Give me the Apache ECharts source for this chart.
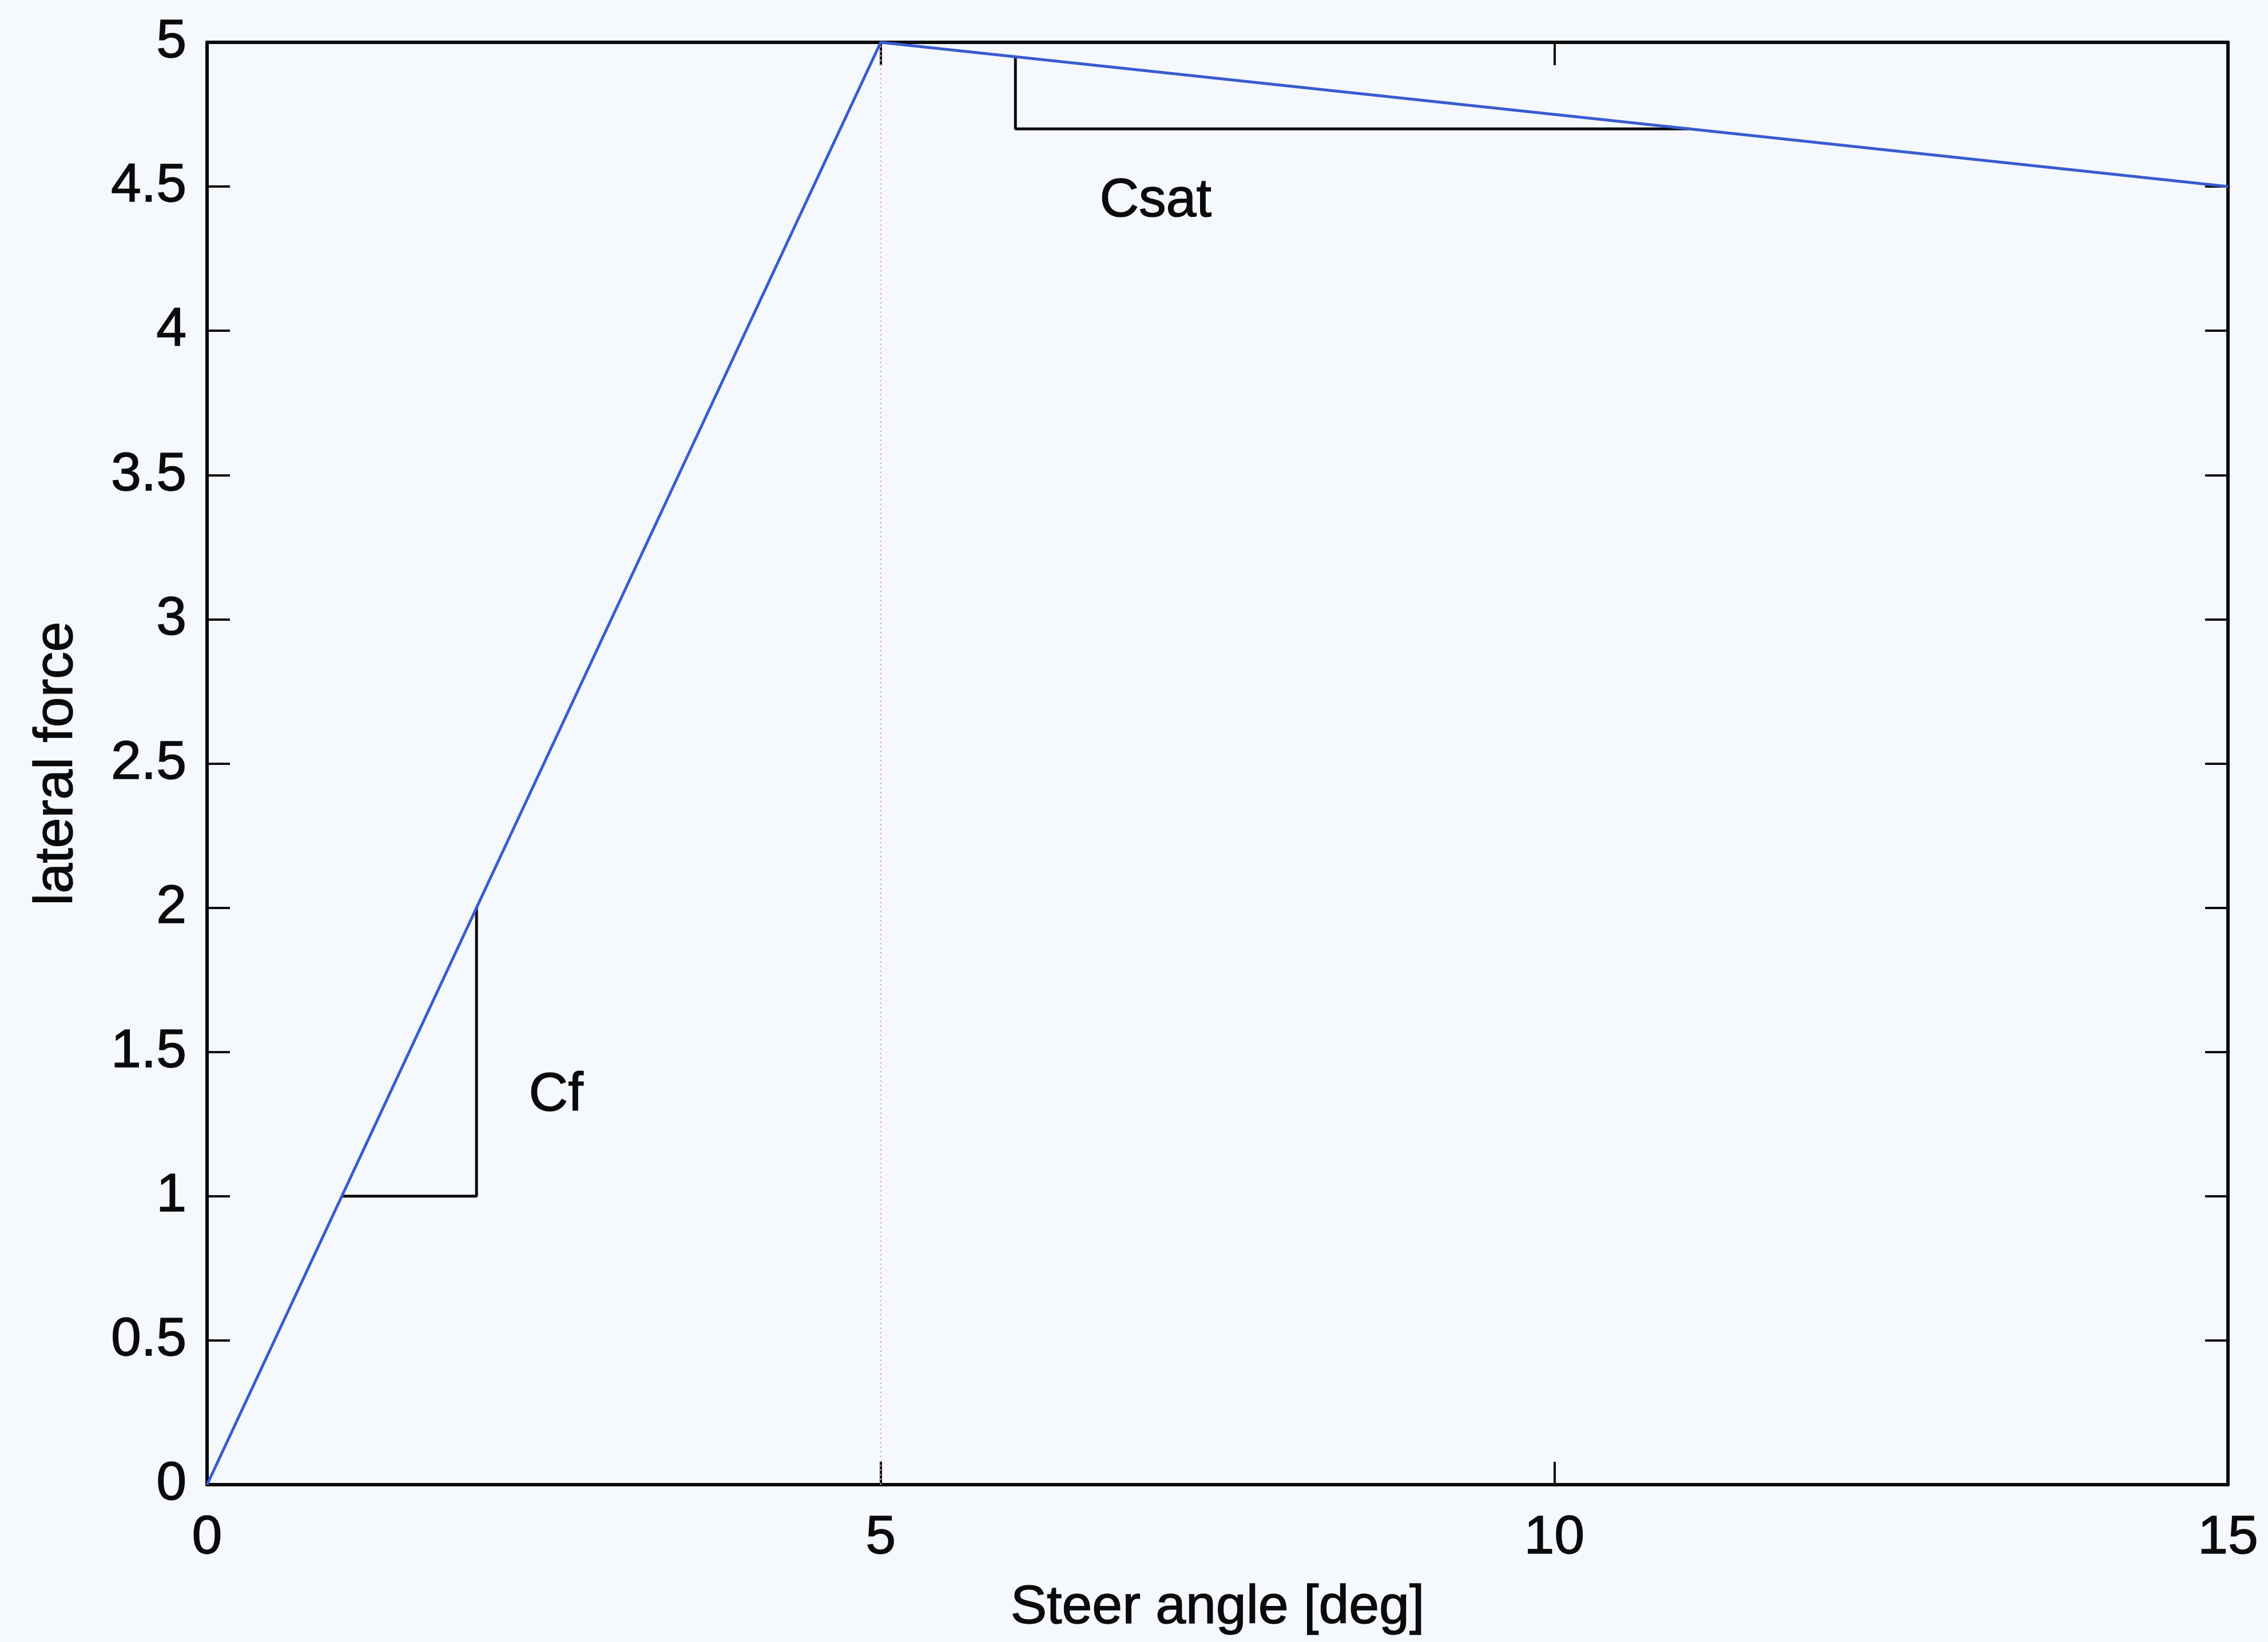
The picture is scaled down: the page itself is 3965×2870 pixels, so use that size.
<!DOCTYPE html>
<html>
	<head>
		<meta charset="UTF-8">
		<title>lateral force</title>
		<script src="https://cdn.jsdelivr.net/npm/echarts@6/dist/echarts.min.js" type="text/javascript" charset="utf-8"></script>
		<style>
			html, body {margin: 0; padding: 0; background: #f5f9fd;}
		</style>
	</head>
	<body>
		<div id="chart" style="width: 3965px;height: 2870px;"></div>
		<script type="text/javascript">
			// tyre curve: linear up to saturation, then slight drop
			var forceCurve = [[0, 0], [5, 5], [15, 4.5]];
			// dotted marker at the saturation angle
			var satMarker = [[5, 0], [5, 5]];
			// slope triangles
			var cfTriangle = [[1, 1], [2, 1], [2, 2]];
			var csatTriangle = [[6, 4.95], [6, 4.7], [11, 4.7]];
			// annotation texts
			var notes = [
				{name: 'Cf', value: [2.59, 1.35]},
				{name: 'Csat', value: [7.04, 4.45]}
			];
			var xTicks = [0, 5, 10, 15];
			var yTicks = [0, 0.5, 1, 1.5, 2, 2.5, 3, 3.5, 4, 4.5, 5];

			var font = 'Liberation Sans, Arial, sans-serif';
			var black = '#0a0a0a';
			// scanned text looks a bit heavy, thicken the glyphs slightly
			var txt = {fontFamily: font, fontSize: 95, color: black, textBorderColor: black, textBorderWidth: 1.5};

			var chart = echarts.init(document.getElementById('chart'));
			var option = {
				animation: false,
				backgroundColor: '#f5f9fd',
				grid: {left: 362, right: 70, top: 74, bottom: 275},
				xAxis: [
					{
						type: 'value', min: xTicks[0], max: xTicks[xTicks.length - 1], interval: 5,
						name: 'Steer angle [deg]', nameLocation: 'middle', nameGap: 168,
						nameTextStyle: txt,
						axisLine: {show: true, onZero: false, lineStyle: {color: black, width: 6}},
						axisTick: {show: true, inside: true, length: 40, lineStyle: {color: black, width: 4}},
						axisLabel: Object.assign({margin: 46}, txt),
						splitLine: {show: false}
					},
					{
						type: 'value', position: 'top', min: xTicks[0], max: xTicks[xTicks.length - 1], interval: 5,
						axisLine: {show: true, onZero: false, lineStyle: {color: black, width: 6}},
						axisTick: {show: true, inside: true, length: 40, lineStyle: {color: black, width: 4}},
						axisLabel: {show: false},
						splitLine: {show: false}
					}
				],
				yAxis: [
					{
						type: 'value', min: yTicks[0], max: yTicks[yTicks.length - 1], interval: 0.5,
						name: 'lateral force', nameLocation: 'middle', nameGap: 215,
						nameTextStyle: txt,
						axisLine: {show: true, onZero: false, lineStyle: {color: black, width: 6}},
						axisTick: {show: true, inside: true, length: 40, lineStyle: {color: black, width: 4}},
						axisLabel: Object.assign({margin: 36}, txt),
						splitLine: {show: false}
					},
					{
						type: 'value', position: 'right', min: yTicks[0], max: yTicks[yTicks.length - 1], interval: 0.5,
						axisLine: {show: true, onZero: false, lineStyle: {color: black, width: 6}},
						axisTick: {show: true, inside: true, length: 40, lineStyle: {color: black, width: 4}},
						axisLabel: {show: false},
						splitLine: {show: false}
					}
				],
				series: [
					{
						type: 'line', data: satMarker, showSymbol: false, silent: true,
						lineStyle: {color: '#eaa8a8', width: 2, type: [3, 5]}
					},
					{
						type: 'line', data: cfTriangle, showSymbol: false, silent: true,
						lineStyle: {color: black, width: 5}
					},
					{
						type: 'line', data: csatTriangle, showSymbol: false, silent: true,
						lineStyle: {color: black, width: 5}
					},
					{
						type: 'line', data: forceCurve, showSymbol: false,
						lineStyle: {color: '#3a5bd0', width: 5}
					},
					{
						type: 'scatter', data: notes, symbolSize: 0, silent: true,
						itemStyle: {opacity: 1},
						label: Object.assign({show: true, position: 'inside', formatter: '{b}'}, txt)
					}
				]
			};
			chart.setOption(option, true);
		</script>
	</body>
</html>
